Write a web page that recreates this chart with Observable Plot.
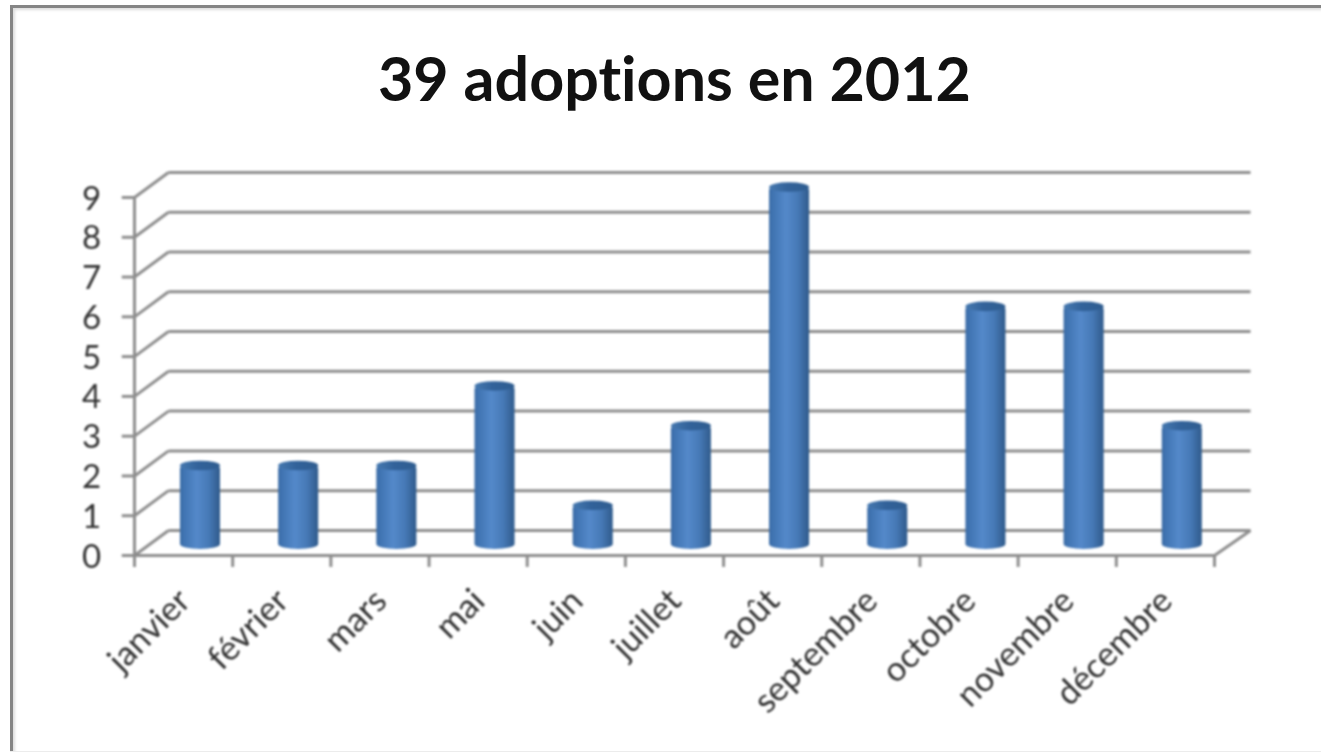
<!DOCTYPE html>
<html lang="fr">
<head>
<meta charset="utf-8">
<script src="https://cdn.jsdelivr.net/npm/d3@7"></script>
<script src="https://cdn.jsdelivr.net/npm/@observablehq/plot@0.6"></script>
<style>
html,body{margin:0;padding:0;background:#fff;width:1321px;height:752px;overflow:hidden}
#frame{position:absolute;left:0;top:0;width:1321px;height:752px;overflow:hidden}
#border{position:absolute;left:10px;top:5px;width:1340px;height:760px;border:3px solid #858585;box-sizing:border-box;box-shadow:inset 3px 3px 3px -1px #ddd}
#foot{position:absolute;left:10px;top:751px;width:1311px;height:1px;background:#ececec}
#title{position:absolute;left:0;top:0;width:1349px;height:125px;text-align:center;font:700 61px/156px Lato,sans-serif;color:#111;font-variant-ligatures:none;filter:blur(.5px)}
#chart{position:absolute;left:0;top:125px;filter:blur(.8px)}
#chart text{font-variant-ligatures:none}
</style>
</head>
<body>
<div id="frame">
<div id="border"></div>
<div id="foot"></div>
<div id="title">39 adoptions en 2012</div>
<div id="chart"></div>
</div>
<script>
const months = ["janvier","février","mars","mai","juin","juillet","août","septembre","octobre","novembre","décembre"];
const adoptions = [2,2,2,4,1,3,9,1,6,6,3];
const yTicks = [0,1,2,3,4,5,6,7,8,9];
const slots = d3.range(months.length + 1);
const rows = months.map((m,i)=>({i, m, v:adoptions[i]}));

// depth of the pseudo-3D box, in data units
const depthX = 0.346, depthY = 0.63, wallEnd = 11.367;
const lineColor = "#8e8e8e";
const lw = 3;

const defs = () => {
  const s = d3.create("svg:defs");
  const body = s.append("linearGradient").attr("id","cyl");
  [[0,"#3b6ca6"],[.1,"#4074b2"],[.42,"#5489ca"],[.72,"#4679b6"],[.9,"#38659a"],[1,"#2f5b8c"]]
    .forEach(([o,c])=>body.append("stop").attr("offset",o).attr("stop-color",c));
  const cap = s.append("linearGradient").attr("id","cap");
  [[0,"#4679b0"],[.45,"#32629a"],[1,"#2f5d90"]]
    .forEach(([o,c])=>cap.append("stop").attr("offset",o).attr("stop-color",c));
  return s.node();
};

const plot = Plot.plot({
  width:1321, height:627,
  marginLeft:0, marginRight:0, marginTop:0, marginBottom:0,
  style:{background:"transparent", overflow:"visible"},
  x:{type:"linear", domain:[0,11], range:[134,1214], axis:null},
  y:{type:"linear", domain:[0,9], range:[430,72], axis:null},
  marks:[
    defs,
    // back wall grid
    Plot.link(yTicks,{x1:()=>depthX,x2:()=>wallEnd,y1:d=>d+depthY,y2:d=>d+depthY,stroke:lineColor,strokeWidth:lw}),
    // side wall diagonals
    Plot.link(yTicks,{x1:()=>0,x2:()=>depthX,y1:d=>d,y2:d=>d+depthY,stroke:lineColor,strokeWidth:lw}),
    // floor
    Plot.link([0],{x1:()=>0,x2:()=>11,y1:()=>0,y2:()=>0,stroke:lineColor,strokeWidth:lw}),
    Plot.link([0],{x1:()=>11,x2:()=>wallEnd,y1:()=>0,y2:()=>depthY,stroke:lineColor,strokeWidth:lw}),
    // value axis
    Plot.ruleX([0],{y1:-0.3,y2:9,stroke:lineColor,strokeWidth:lw}),
    Plot.link(yTicks,{x1:()=>-0.13,x2:()=>0,y1:d=>d,y2:d=>d,stroke:lineColor,strokeWidth:lw}),
    Plot.text(yTicks,{x:()=>-0.34,y:d=>d,dy:1.5,text:d=>String(d),textAnchor:"end",fontFamily:"Lato",fontSize:33,fill:"#333"}),
    // category ticks
    Plot.ruleX(slots,{x:d=>d,y1:-0.3,y2:0,stroke:lineColor,strokeWidth:lw}),
    Plot.text(rows,{x:d=>d.i+0.5,y:()=>-1,dx:1,text:"m",rotate:-45,textAnchor:"end",fontFamily:"Lato",fontSize:34,fill:"#333"}),
    // cylinders
    Plot.rect(rows,{x1:d=>d.i+0.468,x2:d=>d.i+0.876,y1:()=>0.15,y2:d=>d.v+0.3,fill:"url(#cyl)",rx:20,ry:5}),
    Plot.rect(rows,{x1:d=>d.i+0.468,x2:d=>d.i+0.876,y1:d=>d.v+0.13,y2:d=>d.v+0.37,fill:"url(#cap)",rx:20,ry:4.8})
  ]
});
document.getElementById("chart").appendChild(plot);
</script>
</body>
</html>
